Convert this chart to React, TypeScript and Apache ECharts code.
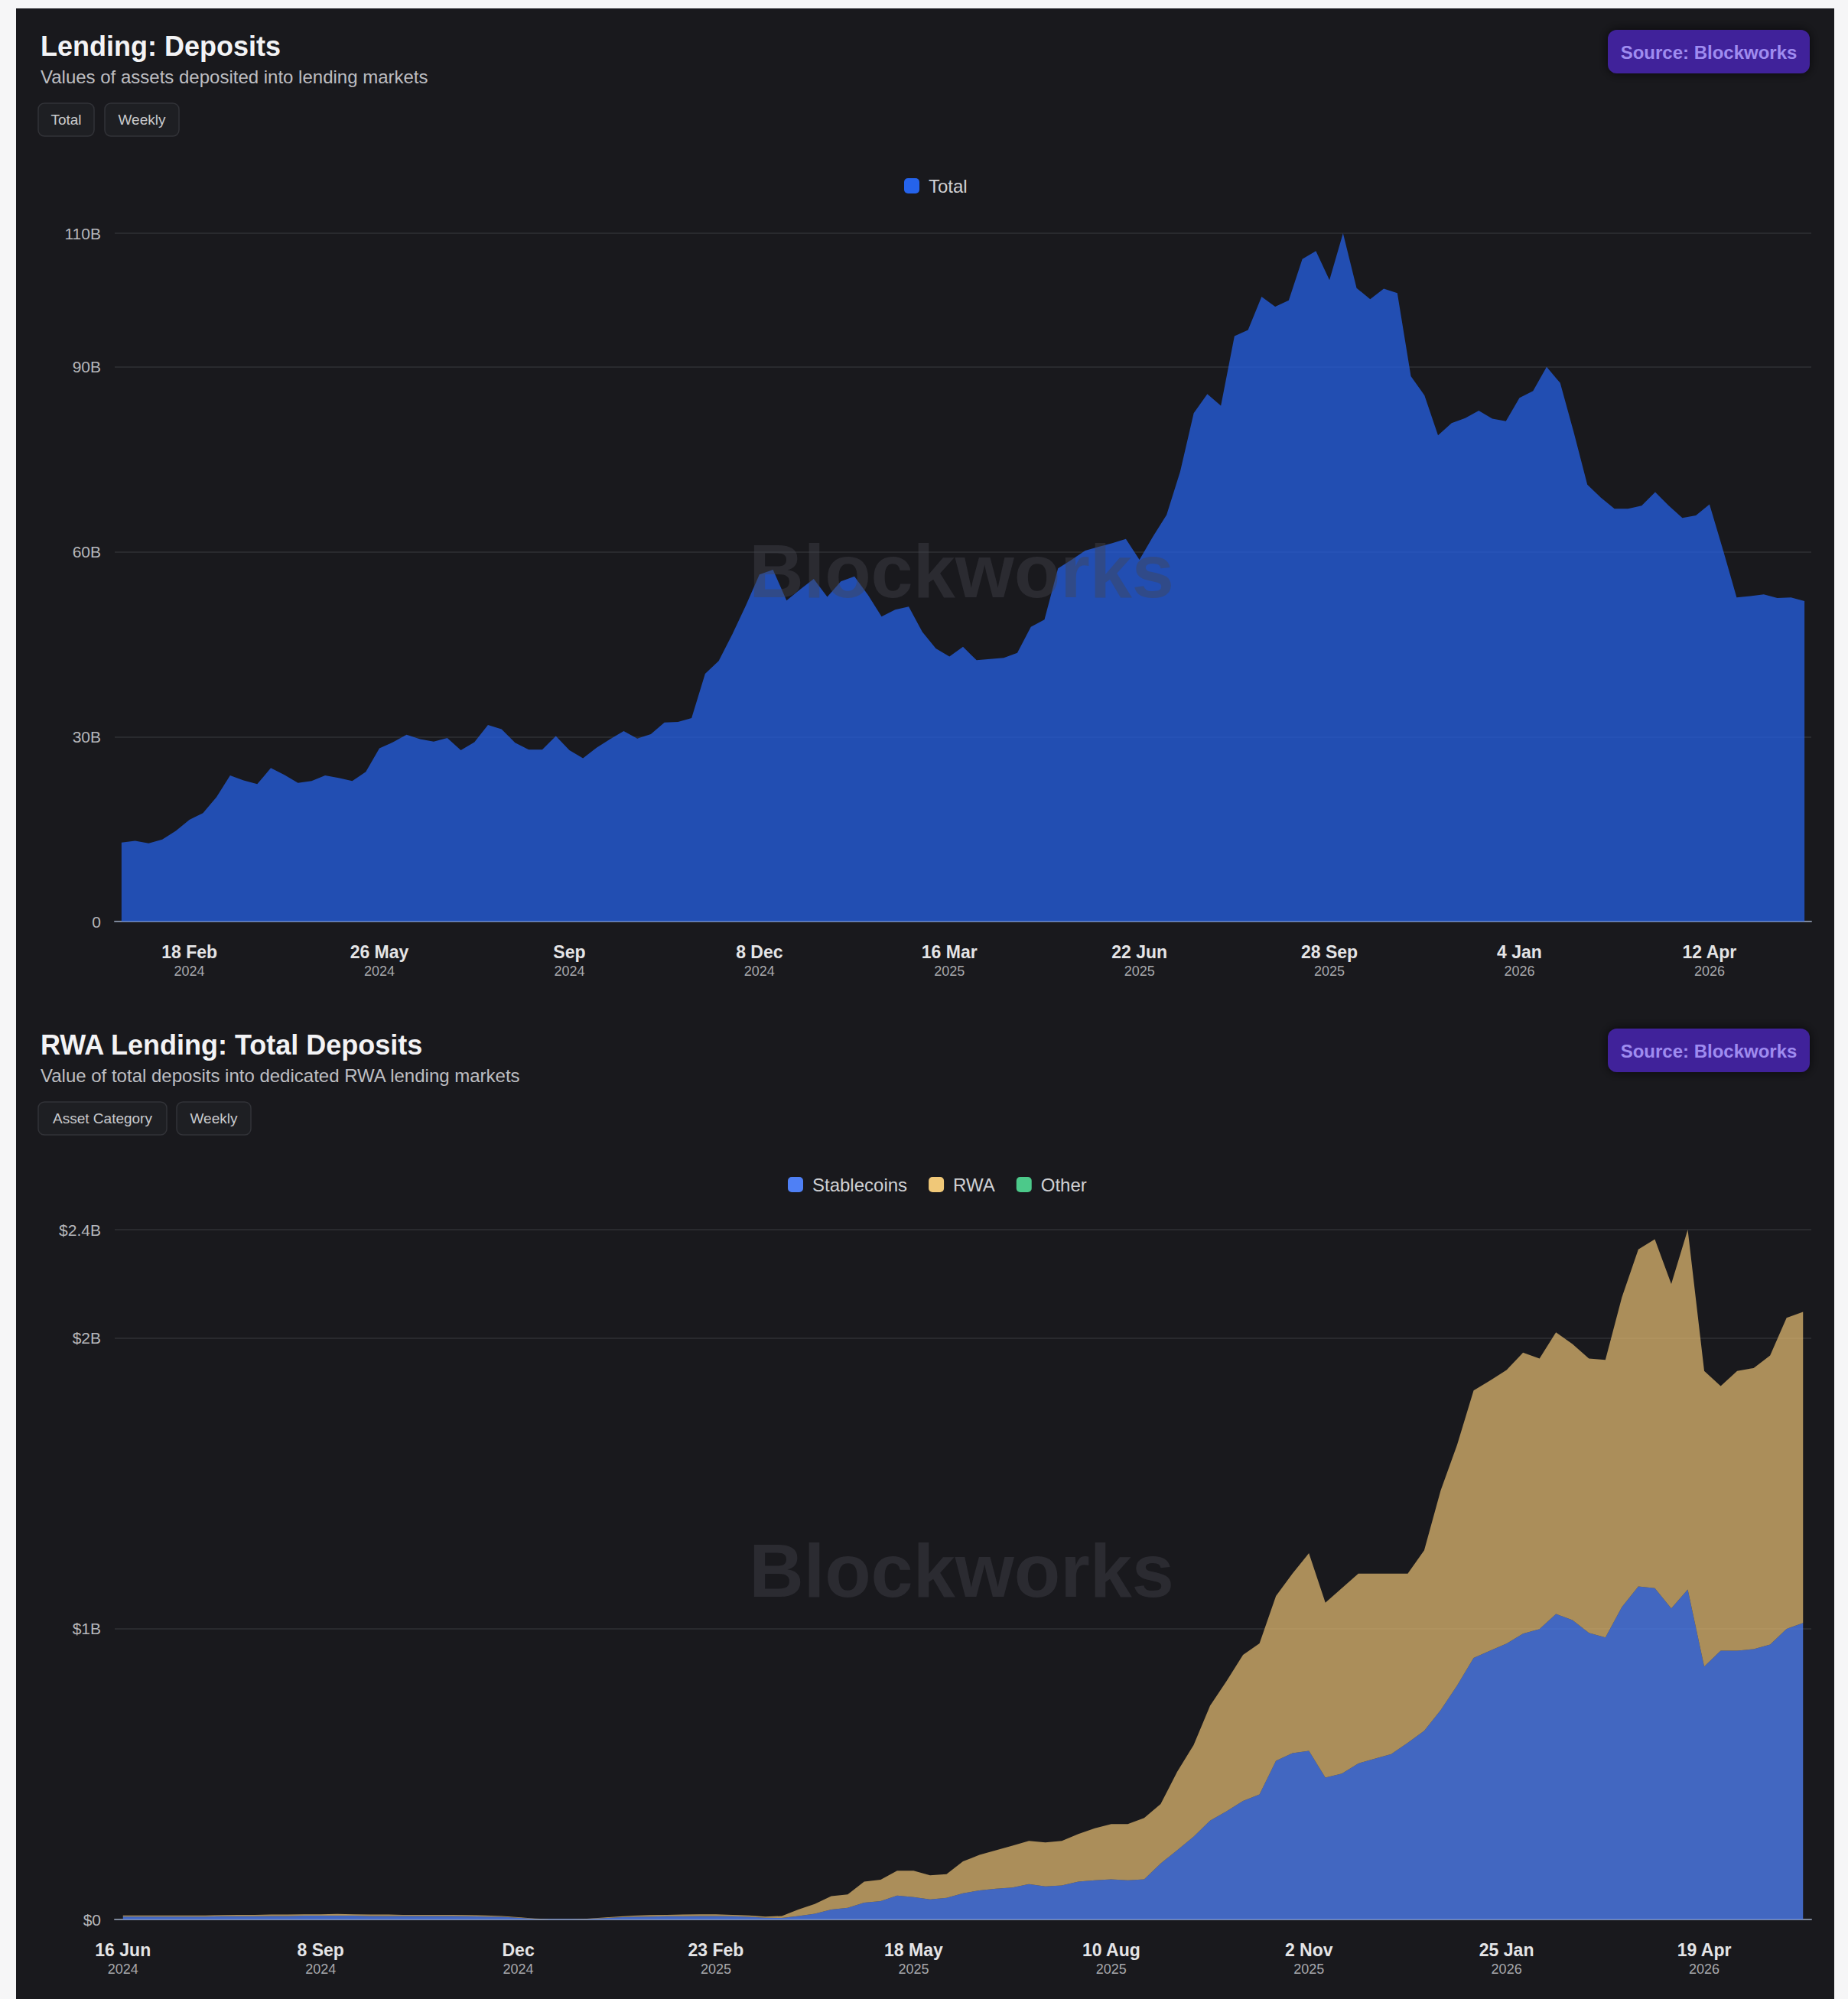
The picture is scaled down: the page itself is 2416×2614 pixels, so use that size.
import React, { useEffect, useRef } from 'react';
import * as echarts from 'echarts';

// ---------- DATA ----------
const topStartDate = '2024-01-14'; // weekly, Sundays
const bottomStartDate = '2024-06-16';

// Lending: Deposits, total (billions USD)
const totalDeposits = [
  12.8, 13.1, 12.7, 13.3, 14.7, 16.5, 17.6, 20.2, 23.7, 22.9,
  22.3, 24.9, 23.8, 22.5, 22.8, 23.7, 23.3, 22.8, 24.3, 28.1,
  29.1, 30.3, 29.6, 29.2, 29.8, 27.8, 29.1, 31.9, 31.2, 29.0,
  27.9, 27.9, 30.1, 27.8, 26.5, 28.2, 29.6, 30.9, 29.7, 30.4,
  32.3, 32.4, 33.0, 40.2, 42.3, 46.6, 51.3, 56.3, 57.1, 52.1,
  53.9, 55.6, 52.7, 55.2, 56.0, 53.0, 49.5, 50.6, 51.1, 47.0,
  44.3, 43.0, 44.6, 42.4, 42.6, 42.8, 43.6, 47.8, 49.0, 57.3,
  58.7, 60.2, 60.8, 61.4, 62.1, 58.7, 62.5, 66.0, 73.0, 82.5,
  85.6, 83.7, 95.0, 96.0, 101.4, 99.8, 100.8, 107.5, 108.8, 104.1,
  111.7, 102.8, 101.0, 102.7, 102.0, 88.5, 85.4, 78.9, 80.9, 81.7,
  82.9, 81.6, 81.2, 85.0, 86.1, 90.0, 87.4, 79.4, 70.9, 68.8,
  67.0, 67.0, 67.5, 69.7, 67.5, 65.5, 65.9, 67.7, 60.3, 52.6,
  52.8, 53.1, 52.5, 52.6, 52.0,
];

// RWA Lending: Total Deposits by asset category (billions USD)
const stablecoins = [
  0.010, 0.010, 0.010, 0.010, 0.010, 0.010, 0.011, 0.011, 0.011, 0.012,
  0.012, 0.013, 0.013, 0.013, 0.013, 0.012, 0.012, 0.012, 0.012, 0.012,
  0.012, 0.011, 0.010, 0.009, 0.006, 0.002, 0.001, 0.001, 0.001, 0.004,
  0.007, 0.009, 0.010, 0.011, 0.011, 0.012, 0.012, 0.011, 0.009, 0.006,
  0.005, 0.012, 0.020, 0.034, 0.040, 0.058, 0.063, 0.082, 0.077, 0.069,
  0.074, 0.090, 0.100, 0.106, 0.110, 0.122, 0.114, 0.117, 0.130, 0.135,
  0.138, 0.135, 0.138, 0.193, 0.238, 0.285, 0.340, 0.372, 0.408, 0.430,
  0.546, 0.572, 0.580, 0.488, 0.502, 0.537, 0.553, 0.569, 0.608, 0.649,
  0.720, 0.805, 0.900, 0.925, 0.949, 0.983, 0.999, 1.051, 1.030, 0.986,
  0.970, 1.075, 1.146, 1.140, 1.070, 1.135, 0.870, 0.925, 0.925, 0.930,
  0.946, 1.000, 1.020,
];
const rwa = [
  0.004, 0.004, 0.004, 0.004, 0.004, 0.004, 0.004, 0.005, 0.005, 0.005,
  0.005, 0.005, 0.005, 0.006, 0.005, 0.005, 0.005, 0.004, 0.004, 0.004,
  0.004, 0.004, 0.004, 0.003, 0.002, 0.001, 0.000, 0.000, 0.001, 0.002,
  0.003, 0.004, 0.005, 0.005, 0.006, 0.006, 0.006, 0.005, 0.005, 0.004,
  0.007, 0.022, 0.033, 0.046, 0.046, 0.072, 0.074, 0.086, 0.091, 0.083,
  0.082, 0.110, 0.122, 0.132, 0.144, 0.148, 0.151, 0.153, 0.164, 0.179,
  0.190, 0.193, 0.211, 0.204, 0.270, 0.315, 0.395, 0.448, 0.502, 0.520,
  0.567, 0.618, 0.680, 0.602, 0.638, 0.653, 0.637, 0.621, 0.582, 0.621,
  0.756, 0.828, 0.920, 0.929, 0.941, 0.967, 0.931, 0.969, 0.950, 0.944,
  0.955, 1.065, 1.159, 1.200, 1.116, 1.238, 1.017, 0.910, 0.962, 0.967,
  0.994, 1.070, 1.070,
];
const other = [
  0, 0, 0, 0, 0, 0, 0, 0, 0, 0,
  0, 0, 0, 0, 0, 0, 0, 0, 0, 0,
  0, 0, 0, 0, 0, 0, 0, 0, 0, 0,
  0, 0, 0, 0, 0, 0, 0, 0, 0, 0,
  0, 0, 0, 0, 0, 0, 0, 0, 0, 0,
  0, 0, 0, 0, 0, 0, 0, 0, 0, 0,
  0, 0, 0, 0, 0, 0, 0, 0, 0, 0,
  0, 0, 0, 0, 0, 0, 0, 0, 0, 0,
  0, 0, 0, 0, 0, 0, 0, 0, 0, 0,
  0, 0, 0, 0, 0, 0, 0, 0, 0, 0,
  0, 0, 0,
];

// x-axis tick labels: [date, day-month, year]
const topTickLabels: [string, string, string][] = [
  ['2024-02-18', '18 Feb', '2024'],
  ['2024-05-26', '26 May', '2024'],
  ['2024-09-01', 'Sep', '2024'],
  ['2024-12-08', '8 Dec', '2024'],
  ['2025-03-16', '16 Mar', '2025'],
  ['2025-06-22', '22 Jun', '2025'],
  ['2025-09-28', '28 Sep', '2025'],
  ['2026-01-04', '4 Jan', '2026'],
  ['2026-04-12', '12 Apr', '2026'],
];
const bottomTickLabels: [string, string, string][] = [
  ['2024-06-16', '16 Jun', '2024'],
  ['2024-09-08', '8 Sep', '2024'],
  ['2024-12-01', 'Dec', '2024'],
  ['2025-02-23', '23 Feb', '2025'],
  ['2025-05-18', '18 May', '2025'],
  ['2025-08-10', '10 Aug', '2025'],
  ['2025-11-02', '2 Nov', '2025'],
  ['2026-01-25', '25 Jan', '2026'],
  ['2026-04-19', '19 Apr', '2026'],
];

// ---------- HELPERS ----------
function weeklyDates(start: string, n: number): string[] {
  const t0 = Date.parse(start + 'T00:00:00Z');
  const out: string[] = [];
  for (let i = 0; i < n; i++) out.push(new Date(t0 + i * 7 * 86400000).toISOString().slice(0, 10));
  return out;
}

const FONT = "'Liberation Sans', Arial, Helvetica, sans-serif";
const BG = '#19191d';

function makeXAxis(gridIndex: number, dates: string[], ticks: [string, string, string][]) {
  const map = new Map(ticks.map((t) => [t[0], t]));
  return {
    type: 'category',
    gridIndex,
    data: dates,
    boundaryGap: true,
    axisTick: { show: false },
    axisLine: { show: true, lineStyle: { color: '#7d879a', width: 2 } },
    splitLine: { show: false },
    axisLabel: {
      interval: (_i: number, v: string) => map.has(v),
      formatter: (v: string) => {
        const t = map.get(v);
        return t ? `{d|${t[1]}}\n{y|${t[2]}}` : '';
      },
      margin: 27,
      rich: {
        d: { fontSize: 23, fontWeight: 'bold', color: '#e4e4e6', fontFamily: FONT, lineHeight: 26 },
        y: { fontSize: 18, color: '#a7a8ac', fontFamily: FONT, lineHeight: 24 },
      },
    },
  };
}

function makeYAxis(gridIndex: number, max: number, interval: number, fmt: (v: number) => string) {
  return {
    type: 'value',
    gridIndex,
    min: 0,
    max,
    interval,
    axisLine: { show: false },
    axisTick: { show: false },
    splitLine: { show: true, lineStyle: { color: '#2f3035', width: 1.5 } },
    axisLabel: { color: '#b6b7bb', fontSize: 21, fontFamily: FONT, margin: 18, formatter: fmt },
  };
}

function sectionGraphics(off: number, title: string, subtitle: string, buttons: [string, number, number][]) {
  const els: any[] = [
    {
      type: 'text', x: 53, y: 60 + off, z: 50,
      style: { text: title, fill: '#f3f3f5', fontSize: 36, fontWeight: 'bold', fontFamily: FONT,
        align: 'left', verticalAlign: 'middle', textAlign: 'left', textVerticalAlign: 'middle' },
    },
    {
      type: 'text', x: 53, y: 100 + off, z: 50,
      style: { text: subtitle, fill: '#bdbec2', fontSize: 24, fontFamily: FONT,
        align: 'left', verticalAlign: 'middle', textAlign: 'left', textVerticalAlign: 'middle' },
    },
    {
      type: 'rect', z: 50,
      shape: { x: 2102, y: 39 + off, width: 264, height: 57, r: 12 },
      style: { fill: '#3f229a', shadowBlur: 14, shadowColor: 'rgba(0,0,0,0.7)' },
    },
    {
      type: 'text', x: 2234, y: 68 + off, z: 51,
      style: { text: 'Source: Blockworks', fill: '#9f8cf0', fontSize: 24, fontWeight: 'bold', fontFamily: FONT,
        align: 'center', verticalAlign: 'middle', textAlign: 'center', textVerticalAlign: 'middle' },
    },
  ];
  buttons.forEach(([label, x, w]) => {
    els.push({
      type: 'rect', z: 50,
      shape: { x, y: 135 + off, width: w, height: 43, r: 8 },
      style: { fill: '#1e1f23', stroke: '#323338', lineWidth: 1.5 },
    });
    els.push({
      type: 'text', x: x + w / 2, y: 156 + off, z: 51,
      style: { text: label, fill: '#c9cacd', fontSize: 19, fontFamily: FONT,
        align: 'center', verticalAlign: 'middle', textAlign: 'center', textVerticalAlign: 'middle' },
    });
  });
  return els;
}

function watermark(y: number) {
  return {
    type: 'text', x: 1257, y, z: 100,
    style: { text: 'Blockworks', fill: 'rgba(68,70,78,0.42)', fontSize: 99, fontWeight: 'bold', fontFamily: FONT,
      align: 'center', verticalAlign: 'middle', textAlign: 'center', textVerticalAlign: 'middle' },
  };
}

export default function App() {
  const ref = useRef<HTMLDivElement>(null);

  useEffect(() => {
    document.body.style.margin = '0';
    if (!ref.current) return;
    const chart = echarts.init(ref.current, undefined, { renderer: 'svg' });

    const topDates = weeklyDates(topStartDate, totalDeposits.length);
    const bottomDates = weeklyDates(bottomStartDate, stablecoins.length);
    const topMax = Math.max(...totalDeposits);
    const bottomMax = Math.max(...stablecoins.map((s, i) => s + rwa[i] + other[i]));

    const legendText = { color: '#d0d1d4', fontSize: 24, fontFamily: FONT, padding: [0, 0, 0, 7] };

    chart.setOption({
      animation: false,
      backgroundColor: 'transparent',
      textStyle: { fontFamily: FONT },
      grid: [
        { left: 150, right: 48, top: 305, height: 900 },
        { left: 150, right: 48, top: 1608, height: 902 },
      ],
      legend: [
        {
          data: ['Total'], left: 1177, top: 226, icon: 'roundRect', itemWidth: 20, itemHeight: 20,
          itemGap: 28, textStyle: legendText, selectedMode: false,
        },
        {
          data: ['Stablecoins', 'RWA', 'Other'], left: 1025, top: 1532, icon: 'roundRect', itemWidth: 20,
          itemHeight: 20, itemGap: 28, textStyle: legendText, selectedMode: false,
        },
      ],
      xAxis: [makeXAxis(0, topDates, topTickLabels), makeXAxis(1, bottomDates, bottomTickLabels)],
      yAxis: [
        makeYAxis(0, topMax, 30, (v: number) => (v === 0 ? '0' : `${Number(v.toPrecision(2))}B`)),
        makeYAxis(1, bottomMax, 1, (v: number) => (v === 0 ? '$0' : `$${Number(v.toPrecision(2))}B`)),
      ],
      series: [
        {
          name: 'Total', type: 'line', xAxisIndex: 0, yAxisIndex: 0, data: totalDeposits,
          color: '#2563eb', symbol: 'none', lineStyle: { width: 0, opacity: 0 },
          areaStyle: { color: '#2563eb', opacity: 0.72 },
        },
        {
          name: 'Stablecoins', type: 'line', stack: 'rwa', xAxisIndex: 1, yAxisIndex: 1, data: stablecoins,
          color: '#4f80f5', symbol: 'none', lineStyle: { width: 0, opacity: 0 },
          areaStyle: { color: '#4f80f5', opacity: 0.76 },
        },
        {
          name: 'RWA', type: 'line', stack: 'rwa', xAxisIndex: 1, yAxisIndex: 1, data: rwa,
          color: '#f0c878', symbol: 'none', lineStyle: { width: 0, opacity: 0 },
          areaStyle: { color: '#f0c678', opacity: 0.68 },
        },
        {
          name: 'Other', type: 'line', stack: 'rwa', xAxisIndex: 1, yAxisIndex: 1, data: other,
          color: '#4cc98a', symbol: 'none', lineStyle: { width: 0, opacity: 0 },
          areaStyle: { color: '#4cc98a', opacity: 0.7 },
        },
      ],
      graphic: [
        ...sectionGraphics(0, 'Lending: Deposits', 'Values of assets deposited into lending markets', [
          ['Total', 50, 73],
          ['Weekly', 137, 97],
        ]),
        ...sectionGraphics(1306, 'RWA Lending: Total Deposits', 'Value of total deposits into dedicated RWA lending markets', [
          ['Asset Category', 50, 168],
          ['Weekly', 231, 97],
        ]),
        watermark(746),
        watermark(2053),
      ],
    });

    return () => chart.dispose();
  }, []);

  return (
    <div style={{ position: 'absolute', left: 0, top: 0, width: 2416, height: 2614, background: '#f6f6f7', overflow: 'hidden' }}>
      <div style={{ position: 'absolute', left: 21, top: 11, width: 2377, height: 2603, background: BG }} />
      <div ref={ref} style={{ position: 'absolute', left: 0, top: 0, width: 2416, height: 2614 }} />
    </div>
  );
}
